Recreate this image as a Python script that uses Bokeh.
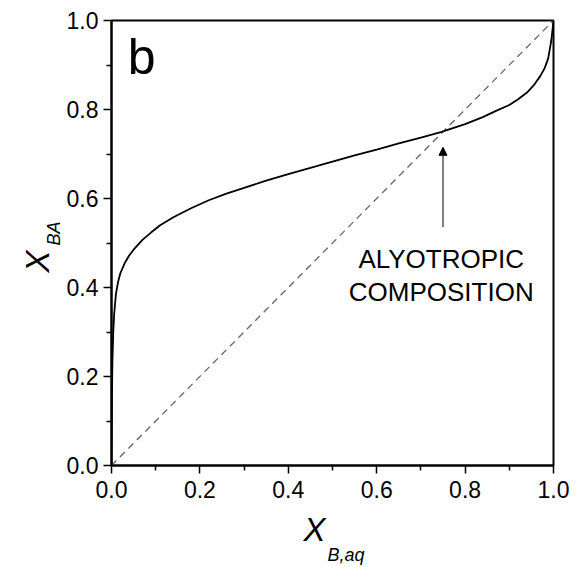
from bokeh.plotting import figure
from bokeh.models import Label, Arrow, NormalHead, Range1d, FixedTicker, PrintfTickFormatter, Title
from bokeh.embed import file_html
from bokeh.resources import INLINE

# ---- data ----
x_aq = [0.0, 0.001, 0.002, 0.004, 0.006, 0.01, 0.015, 0.02, 0.03, 0.04, 0.05, 0.07, 0.09,
        0.11, 0.14, 0.18, 0.22, 0.26, 0.30, 0.35, 0.40, 0.45, 0.50, 0.55, 0.60, 0.65, 0.70,
        0.745, 0.80, 0.84, 0.87, 0.90, 0.92, 0.94, 0.955, 0.97, 0.98, 0.988, 0.995, 0.999, 1.0]
y_ba = [0.0, 0.15, 0.23, 0.30, 0.34, 0.385, 0.413, 0.432, 0.455, 0.472, 0.485, 0.507, 0.524,
        0.54, 0.558, 0.578, 0.596, 0.611, 0.624, 0.640, 0.655, 0.669, 0.683, 0.697, 0.710, 0.724, 0.737,
        0.749, 0.767, 0.783, 0.797, 0.810, 0.823, 0.838, 0.854, 0.875, 0.893, 0.915, 0.955, 0.99, 1.0]
diag_x = [0.0, 1.0]
diag_y = [0.0, 1.0]
major_ticks = [0.0, 0.2, 0.4, 0.6, 0.8, 1.0]
minor_ticks = [0.1, 0.3, 0.5, 0.7, 0.9]
arrow_x = 0.75
arrow_y = [0.536, 0.715]
annot_lines = ["ALYOTROPIC", "COMPOSITION"]
panel_letter = "b"
x_label = ["X", "B,aq"]
y_label = ["X", "BA"]

FONT = "Liberation Sans"

p = figure(width=585, height=567, output_backend="svg", toolbar_location=None,
           x_range=Range1d(0, 1), y_range=Range1d(0, 1),
           min_border_left=111, min_border_right=32, min_border_top=20, min_border_bottom=102)
p.grid.visible = False
p.outline_line_color = "black"
p.outline_line_width = 2
p.background_fill_color = "white"
p.border_fill_color = "white"

for ax in (p.xaxis[0], p.yaxis[0]):
    ax.ticker = FixedTicker(ticks=major_ticks, minor_ticks=minor_ticks)
    ax.formatter = PrintfTickFormatter(format="%.1f")
    ax.axis_line_width = 2
    ax.axis_line_color = "black"
    ax.major_tick_line_width = 1.5
    ax.minor_tick_line_width = 1.5
    ax.major_tick_in = 0
    ax.major_tick_out = 8
    ax.minor_tick_in = 0
    ax.minor_tick_out = 5
    ax.major_label_text_font = FONT
    ax.major_label_text_font_size = "23px"
    ax.major_label_text_color = "black"
p.xaxis.major_label_standoff = 7
p.yaxis.major_label_standoff = 5

p.line(diag_x, diag_y, line_color="#666666", line_width=1.3, line_dash="7 5")
p.line(x_aq, y_ba, line_color="black", line_width=1.8)

p.add_layout(Arrow(end=NormalHead(size=8, fill_color="black", line_color="black", line_width=1),
                   x_start=arrow_x, y_start=arrow_y[0], x_end=arrow_x, y_end=arrow_y[1],
                   line_color="black", line_width=1))

p.add_layout(Label(x=0.746, y=0.463, text=annot_lines[0], text_align="center",
                   text_baseline="middle", text_font=FONT, text_font_size="26px", text_color="black"))
p.add_layout(Label(x=0.746, y=0.389, text=annot_lines[1], text_align="center",
                   text_baseline="middle", text_font=FONT, text_font_size="26px", text_color="black"))

p.add_layout(Label(x=0.037, y=0.917, text=panel_letter, text_align="left",
                   text_baseline="alphabetic", text_font=FONT, text_font_size="50px", text_color="black"))

# x axis label X_{B,aq}
p.add_layout(Title(text=x_label[0], align="left", offset=192, vertical_align="bottom", standoff=16,
                   text_font=FONT, text_font_style="italic", text_font_size="33px",
                   text_color="black"), "below")
p.add_layout(Title(text=x_label[1], align="left", offset=216, vertical_align="top", standoff=-21,
                   text_font=FONT, text_font_style="italic", text_font_size="18px",
                   text_color="black"), "below")

# y axis label X_{BA}
p.add_layout(Title(text=y_label[1], align="left", offset=220, vertical_align="bottom", standoff=0,
                   text_font=FONT, text_font_style="italic", text_font_size="18px",
                   text_color="black"), "left")
p.add_layout(Title(text=y_label[0], align="left", offset=193, vertical_align="bottom", standoff=-28,
                   text_font=FONT, text_font_style="italic", text_font_size="33px",
                   text_color="black"), "left")

open("out.html", "w").write(file_html(p, INLINE))
